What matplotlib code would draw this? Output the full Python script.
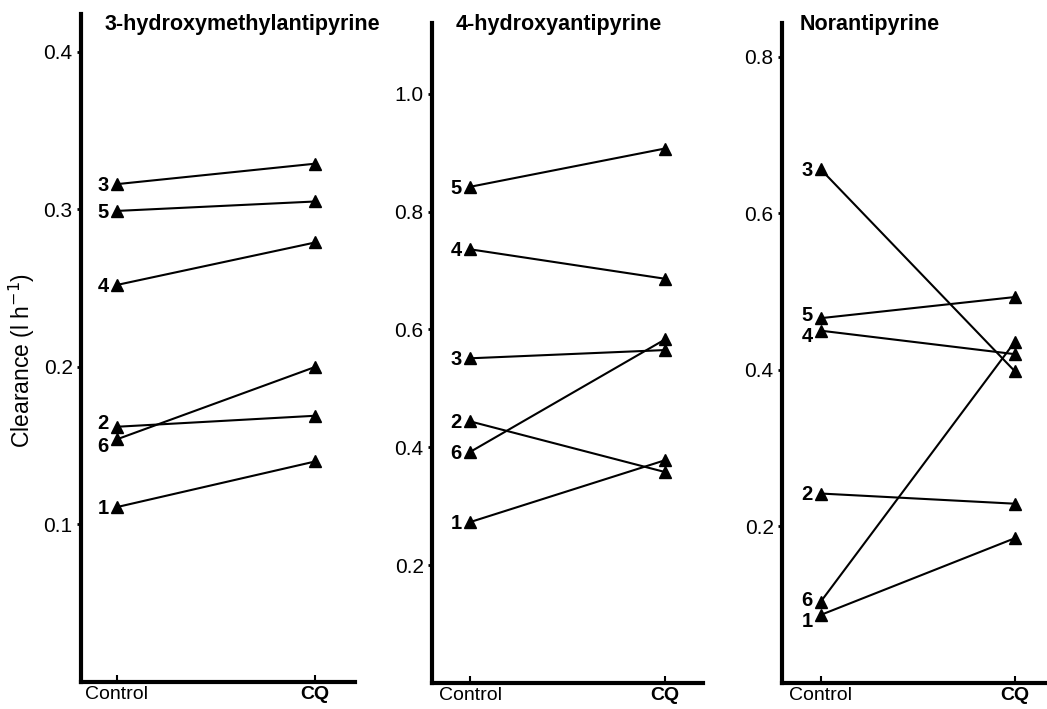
import matplotlib.pyplot as plt

plt.rcParams['font.family'] = ['Liberation Sans', 'DejaVu Sans']

# subject numbers and clearance values (l/h), control vs CQ
subjects = ['1', '2', '3', '4', '5', '6']
conditions = ['Control', 'CQ']

hmap_control = [0.111, 0.162, 0.316, 0.252, 0.299, 0.154]
hmap_cq = [0.140, 0.169, 0.329, 0.279, 0.305, 0.200]

ohap_control = [0.273, 0.444, 0.551, 0.736, 0.842, 0.392]
ohap_cq = [0.378, 0.358, 0.565, 0.686, 0.907, 0.583]

nor_control = [0.087, 0.242, 0.656, 0.450, 0.466, 0.104]
nor_cq = [0.185, 0.229, 0.398, 0.420, 0.493, 0.436]

titles = ['3-hydroxymethylantipyrine', '4-hydroxyantipyrine', 'Norantipyrine']
yticks = [[0.1, 0.2, 0.3, 0.4], [0.2, 0.4, 0.6, 0.8, 1.0], [0.2, 0.4, 0.6, 0.8]]
ylims = [(0, 0.424), (0, 1.12), (0, 0.843)]
xlims = [(-0.18, 1.20), (-0.195, 1.195), (-0.20, 1.165)]

W, H = 1047, 709
# axes boxes in pixels: left, right, top, bottom
boxes = [(81, 355, 14, 682), (432, 703, 23, 683), (782, 1047, 23, 683)]
title_x = [105, 456, 800]
# small vertical nudges (points) for subject labels that sit close together
label_nudge = [{'2': 3, '6': -4}, {}, {'5': 3, '4': -3, '6': 2, '1': -4}]

panels = [(hmap_control, hmap_cq), (ohap_control, ohap_cq), (nor_control, nor_cq)]

fig = plt.figure(figsize=(W / 100, H / 100), dpi=100)

for i, (ctrl, cq) in enumerate(panels):
    l, r, t, b = boxes[i]
    ax = fig.add_axes([l / W, 1 - b / H, (r - l) / W, (b - t) / H])
    for j, s in enumerate(subjects):
        ax.plot([0, 1], [ctrl[j], cq[j]], color='black', linewidth=1.5,
                marker='^', markersize=8, clip_on=False)
        ax.annotate(s, (0, ctrl[j]), xytext=(-6, -1 + label_nudge[i].get(s, 0)),
                    textcoords='offset points', ha='right', va='center',
                    fontsize=14.5, fontweight='bold')
    ax.set_xlim(*xlims[i])
    ax.set_ylim(*ylims[i])
    ax.spines['top'].set_visible(False)
    ax.spines['right'].set_visible(False)
    ax.spines['left'].set_linewidth(3)
    ax.spines['bottom'].set_linewidth(3)
    ax.set_yticks(yticks[i])
    ax.set_yticklabels(['%.1f' % v for v in yticks[i]], fontsize=15)
    ax.tick_params(axis='y', direction='out', length=3, width=2, pad=3)
    ax.set_xticks([0, 1])
    ax.set_xticklabels(conditions, fontsize=14)
    ax.get_xticklabels()[1].set_fontweight('bold')
    ax.tick_params(axis='x', direction='in', length=5, width=1.5, pad=3)
    fig.text(title_x[i] / W, 1 - 30 / H, titles[i], fontsize=15.5,
             fontweight='bold', ha='left', va='baseline')

fig.text(22 / W, 1 - 360 / H, 'Clearance (l h$^{-1}$)', rotation=90,
         ha='center', va='center', fontsize=16.5)

fig.savefig('out.png', dpi=100)
